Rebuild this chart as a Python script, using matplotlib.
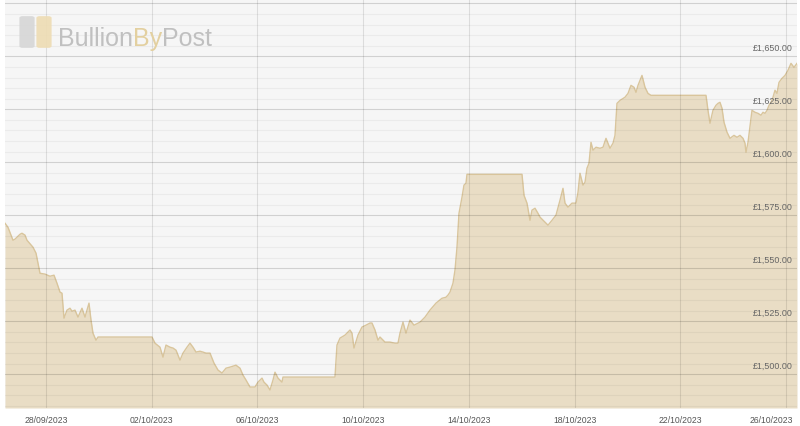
import numpy as np
import matplotlib
matplotlib.use("Agg")
import matplotlib.pyplot as plt
import matplotlib.dates as mdates
import matplotlib.transforms as mtransforms
from matplotlib import font_manager
from matplotlib.patches import FancyBboxPatch
import datetime as dt

# price history, days after 28/09/2023 00:00 and price in GBP
start_date = dt.datetime(2023, 9, 28)
day_offset = [
    -1.551, -1.438, -1.249, -1.173, -0.984, -0.908, -0.795, -0.719, -0.492, -0.378,
    -0.303, -0.227, -0.038, 0.151, 0.303, 0.416, 0.530, 0.605, 0.681, 0.795,
    0.908, 0.984, 1.097, 1.211, 1.362, 1.476, 1.627, 1.703, 1.778, 1.892,
    1.967, 4.011, 4.124, 4.313, 4.427, 4.540, 4.692, 4.805, 4.919, 5.070,
    5.184, 5.335, 5.448, 5.562, 5.675, 5.827, 5.940, 6.054, 6.205, 6.356,
    6.508, 6.659, 6.810, 6.962, 7.189, 7.340, 7.454, 7.567, 7.718, 7.908,
    8.021, 8.173, 8.248, 8.362, 8.475, 8.589, 8.664, 8.778, 8.929, 8.967,
    10.934, 11.010, 11.124, 11.313, 11.502, 11.578, 11.653, 11.805, 11.956, 12.107,
    12.259, 12.334, 12.448, 12.561, 12.637, 12.826, 13.015, 13.205, 13.318, 13.394,
    13.507, 13.621, 13.772, 13.924, 14.150, 14.340, 14.529, 14.756, 14.983, 15.134,
    15.210, 15.286, 15.399, 15.475, 15.551, 15.626, 15.740, 15.815, 15.891, 15.929,
    18.010, 18.086, 18.199, 18.313, 18.388, 18.502, 18.615, 18.691, 18.880, 18.994,
    19.145, 19.296, 19.448, 19.561, 19.637, 19.750, 19.902, 20.053, 20.129, 20.204,
    20.318, 20.394, 20.469, 20.545, 20.621, 20.696, 20.810, 20.961, 21.075, 21.188,
    21.339, 21.453, 21.529, 21.604, 21.718, 21.907, 22.021, 22.134, 22.248, 22.323,
    22.399, 22.550, 22.664, 22.777, 22.891, 24.972, 25.047, 25.123, 25.236, 25.350,
    25.426, 25.501, 25.577, 25.653, 25.766, 25.880, 26.031, 26.145, 26.258, 26.372,
    26.447, 26.485, 26.561, 26.712, 26.826, 26.939, 27.053, 27.128, 27.204, 27.280,
    27.356, 27.431, 27.507, 27.582, 27.658, 27.734, 27.847, 27.961, 28.074, 28.188,
    28.301, 28.415,
]
price = [
    1571.2, 1569.3, 1563.2, 1563.7, 1566.0, 1566.5, 1565.6, 1563.2, 1559.9, 1557.1,
    1552.4, 1547.6, 1547.2, 1546.2, 1546.7, 1542.9, 1538.7, 1538.2, 1526.4, 1530.2,
    1531.1, 1529.7, 1530.2, 1526.9, 1531.1, 1526.9, 1533.5, 1525.5, 1519.3, 1516.0,
    1517.5, 1517.5, 1514.6, 1512.7, 1508.0, 1513.7, 1512.7, 1512.3, 1511.3, 1506.6,
    1509.9, 1512.7, 1514.6, 1512.7, 1510.4, 1510.8, 1510.4, 1509.9, 1509.9, 1505.2,
    1501.9, 1500.5, 1502.8, 1503.3, 1504.2, 1502.8, 1499.5, 1497.2, 1493.9, 1493.9,
    1496.2, 1498.1, 1496.2, 1494.8, 1492.5, 1497.2, 1500.9, 1498.1, 1496.2, 1498.6,
    1498.6, 1513.7, 1517.0, 1518.4, 1520.8, 1519.3, 1512.3, 1518.4, 1522.2, 1523.1,
    1524.1, 1524.1, 1520.8, 1516.0, 1517.5, 1515.1, 1515.1, 1514.6, 1514.6, 1519.3,
    1524.5, 1519.3, 1525.5, 1523.1, 1524.5, 1526.9, 1530.2, 1533.5, 1535.8, 1536.3,
    1537.3, 1538.7, 1542.9, 1549.1, 1559.9, 1575.9, 1583.5, 1589.2, 1590.1, 1594.3,
    1594.3, 1584.4, 1580.7, 1572.6, 1577.4, 1578.3, 1575.9, 1574.1, 1571.7, 1570.3,
    1572.6, 1575.0, 1582.1, 1587.7, 1580.7, 1578.8, 1580.7, 1580.7, 1585.8, 1594.8,
    1589.2, 1590.6, 1597.2, 1599.5, 1609.4, 1605.7, 1607.1, 1606.6, 1607.1, 1611.3,
    1606.6, 1609.0, 1612.7, 1627.8, 1629.2, 1630.7, 1632.5, 1636.3, 1635.4, 1633.0,
    1636.3, 1641.0, 1635.4, 1632.5, 1631.6, 1631.6, 1624.5, 1618.4, 1624.5, 1626.9,
    1627.8, 1628.3, 1625.5, 1618.9, 1614.2, 1611.3, 1612.7, 1611.8, 1612.7, 1611.3,
    1609.0, 1604.7, 1609.4, 1624.5, 1623.6, 1623.1, 1622.2, 1623.6, 1623.1, 1624.5,
    1626.9, 1628.3, 1630.7, 1634.0, 1632.5, 1637.7, 1639.6, 1641.0, 1643.4, 1646.7,
    1644.8, 1646.7,
]
tick_dates = ["28/09/2023", "02/10/2023", "06/10/2023", "10/10/2023",
              "14/10/2023", "18/10/2023", "22/10/2023", "26/10/2023"]
price_ticks = [1500, 1525, 1550, 1575, 1600, 1625, 1650]

FILL = "#e9ddc5"
EDGE = "#d9c59c"

installed = {f.name for f in font_manager.fontManager.ttflist}
label_font = "Liberation Sans" if "Liberation Sans" in installed else "DejaVu Sans"
logo_font = "Liberation Sans Narrow" if "Liberation Sans Narrow" in installed else label_font

x = mdates.date2num([start_date + dt.timedelta(days=d) for d in day_offset])
y = np.array(price)

fig = plt.figure(figsize=(8, 4.26), dpi=100)
ax = fig.add_axes([5 / 800, 18 / 426, 792 / 800, 408 / 426])
ax.set_facecolor("#f6f6f6")

y_low, y_high = 1484.0, 1676.6
ax.fill_between(x, y, y_low, color=FILL, lw=0, zorder=1)
ax.plot(x, y, color=EDGE, lw=1.0, zorder=2)

# horizontal grid: minor every 5, major every 25
for v in np.arange(1485, 1680, 5):
    major = v % 25 == 0
    ax.axhline(v, color=(0, 0, 0, 0.15 if major else 0.045), lw=0.8, zorder=3)

tick_x = mdates.date2num([dt.datetime.strptime(t, "%d/%m/%Y") for t in tick_dates])
for tx in tick_x:
    ax.axvline(tx, color=(0, 0, 0, 0.1), lw=0.8, zorder=3)

ax.set_xlim(mdates.date2num(start_date) - 1.551, mdates.date2num(start_date) + 28.415)
ax.set_ylim(y_low, y_high)
ax.set_xticks(tick_x)
ax.set_xticklabels(tick_dates, fontsize=6.2, color="#555555", family=label_font)
ax.tick_params(axis="x", length=0, pad=5.5)
# last date label is pushed left so it stays inside the figure
last = ax.get_xticklabels()[-1]
last.set_horizontalalignment("right")
last.set_transform(last.get_transform() +
                   mtransforms.ScaledTranslation(7 / 100, 0, fig.dpi_scale_trans))
ax.set_yticks([])
for s in ax.spines.values():
    s.set_visible(False)

for v in price_ticks:
    ax.annotate(f"£{v:,.2f}", xy=(0.995, v), xycoords=("axes fraction", "data"),
                xytext=(0, 2.5), textcoords="offset points", ha="right", va="bottom",
                fontsize=6.4, color="#666666", family=label_font, zorder=4)

# watermark logo
fig.add_artist(FancyBboxPatch((21 / 800, (426 - 47) / 426), 12 / 800, 30 / 426,
                              boxstyle="round,pad=0.002,rounding_size=0.004",
                              transform=fig.transFigure, fc="#d6d6d6", ec="none", alpha=0.9))
fig.add_artist(FancyBboxPatch((38 / 800, (426 - 47) / 426), 12 / 800, 30 / 426,
                              boxstyle="round,pad=0.002,rounding_size=0.004",
                              transform=fig.transFigure, fc="#eedcb3", ec="none", alpha=0.9))
logo_size = 18
t1 = fig.text(58 / 800, (426 - 46) / 426, "Bullion", fontsize=logo_size, color="#c0c0c0",
              family=logo_font, va="baseline")
fig.canvas.draw()
bb = t1.get_window_extent()
t2 = fig.text(bb.x1 / 800, (426 - 46) / 426, "By", fontsize=logo_size, color="#e3d0a0",
              family=logo_font, va="baseline")
bb2 = t2.get_window_extent()
fig.text(bb2.x1 / 800, (426 - 46) / 426, "Post", fontsize=logo_size, color="#c0c0c0",
         family=logo_font, va="baseline")

fig.savefig("out.png", dpi=100)
